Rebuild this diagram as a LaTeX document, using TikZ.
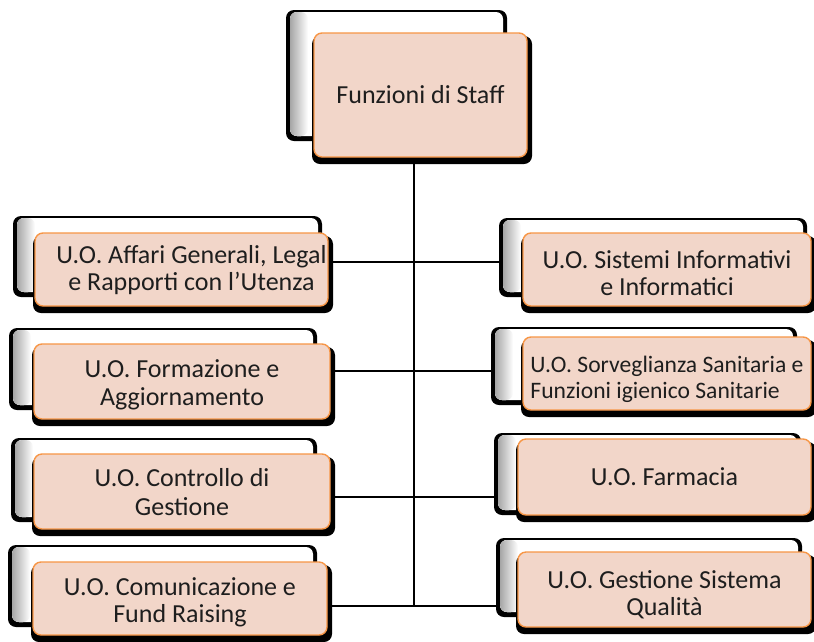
\documentclass[tikz,border=0pt]{standalone}
\usepackage{fontspec}
\setmainfont{Carlito}
\usetikzlibrary{fit,backgrounds}
\definecolor{boxpeach}{RGB}{242,214,201}
\definecolor{boxorange}{RGB}{247,150,70}
\definecolor{textdark}{RGB}{30,30,30}
\tikzset{
  backshadow/.style={fill=black, rounded corners=8pt},
  backbox/.style={fill=white, rounded corners=7pt},
  frontshadow/.style={fill=black, rounded corners=8pt},
  frontbox/.style={draw=boxorange, line width=1.4pt, fill=boxpeach, rounded corners=8pt, inner sep=0pt},
  boxtext/.style={text=textdark, align=center, inner sep=0pt, font=\fontsize{26}{28}\selectfont},
  link/.style={draw=black, line width=2.2pt}
}
% #1-#4 front box corners, #5-#8 back box corners (y downwards)
\newcommand\unitbacks[8]{%
  \fill[backshadow] (#5-4,#6-2) rectangle (#7+4,#8+5);
  \fill[backbox] (#5,#6) rectangle (#7,#8);
  \shade[backbox, left color=black!35, right color=white] (#5,#6) rectangle (#5+18,#8);
  \fill[frontshadow] (#1-2,#2+3) rectangle (#3+5,#4+7);
}
\begin{document}
\begin{tikzpicture}[x=1pt, y=-1pt]
\useasboundingbox (0,0) rectangle (814,641);

\unitbacks{314}{33}{527}{157}{290}{12}{503}{136}
\node[frontbox, fit={(314,33)(527,157)}] (top) {};
\node[boxtext] (topt) at (top.center) {Funzioni di Staff};

\unitbacks{35}{233}{328}{306}{17}{218}{318}{292}
\node[frontbox, fit={(35,233)(328,306)}] (l1) {};
\node[boxtext, font=\fontsize{26}{27}\selectfont] (l1t) at ([yshift=-1pt]l1.center)
  {\hspace*{20pt}U.O. Affari Generali, Legal\\\hspace*{20pt}e Rapporti con l’Utenza};

\unitbacks{523}{233}{811}{306}{503}{220}{803}{292}
\node[frontbox, fit={(523,233)(811,306)}] (r1) {};
\node[boxtext, font=\fontsize{26}{27}\selectfont] (r1t) at ([yshift=-4pt]r1.center)
  {U.O. Sistemi Informativi\\e Informatici};

\unitbacks{34}{344}{330}{419}{13}{330}{313}{405}
\node[frontbox, fit={(34,344)(330,419)}] (l2) {};
\node[boxtext] (l2t) at ([yshift=-3pt]l2.center) {U.O. Formazione e\\Aggiornamento};

\unitbacks{523}{337}{811}{410}{495}{329}{793}{400}
\node[frontbox, fit={(523,337)(811,410)}] (r2) {};
\node[boxtext, align=left, font=\fontsize{23.6}{25.5}\selectfont] (r2t) at ([yshift=-6pt]r2.center)
  {U.O. Sorveglianza Sanitaria e\\Funzioni igienico Sanitarie};

\unitbacks{34}{454}{330}{529}{15}{440}{313}{517}
\node[frontbox, fit={(34,454)(330,529)}] (l3) {};
\node[boxtext, font=\fontsize{26}{29}\selectfont] (l3t) at ([yshift=-1pt]l3.center) {U.O. Controllo di\\Gestione};

\unitbacks{518}{439}{811}{515}{498}{435}{797}{510}
\node[frontbox, fit={(518,439)(811,515)}] (r3) {};
\node[boxtext] (r3t) at (r3.center) {U.O. Farmacia};

\unitbacks{33}{562}{327}{635}{12}{547}{313}{622}
\node[frontbox, fit={(33,562)(327,635)}] (l4) {};
\node[boxtext, font=\fontsize{26}{27}\selectfont] (l4t) at ([yshift=-4pt]l4.center) {U.O. Comunicazione e\\Fund Raising};

\unitbacks{518}{552}{811}{627}{500}{540}{798}{612}
\node[frontbox, fit={(518,552)(811,627)}] (r4) {};
\node[boxtext, font=\fontsize{26}{27}\selectfont] (r4t) at ([yshift=-5pt]r4.center) {U.O. Gestione Sistema\\Qualità};

\coordinate (j1) at (414,262);
\coordinate (j2) at (414,371);
\coordinate (j3) at (414,497);
\coordinate (j4) at (414,606);

\begin{pgfonlayer}{background}
\fill[white] (0,0) rectangle (814,641);
\draw[link] (top.south -| j4) -- (j4);
\draw[link] (l1.east |- j1) -- (r1.west |- j1);
\draw[link] (l2.east |- j2) -- (r2.west |- j2);
\draw[link] (l3.east |- j3) -- (r3.west |- j3);
\draw[link] (l4.east |- j4) -- (r4.west |- j4);
\end{pgfonlayer}
\end{tikzpicture}
\end{document}
